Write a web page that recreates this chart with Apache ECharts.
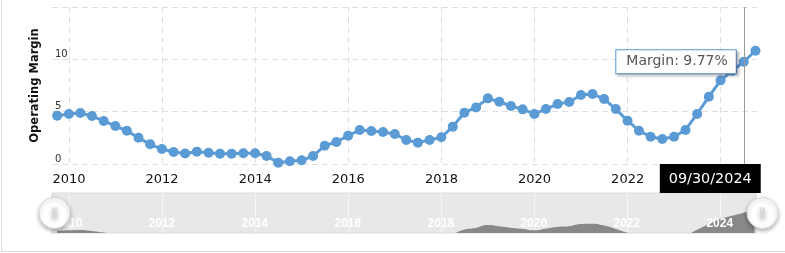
<!DOCTYPE html>
<html><head><meta charset="utf-8">
<script src="https://cdn.jsdelivr.net/npm/echarts@6/dist/echarts.min.js"></script>
<style>
html,body{margin:0;padding:0;background:#fff;overflow:hidden;}
#frame{position:absolute;left:1px;top:-2px;width:820px;height:252px;border:1px solid #dcdcdc;}
#chart{position:absolute;left:0;top:0;width:785px;height:253px;}
</style></head><body>
<div id="frame"></div>
<div id="chart"></div>
<script>
// ---- data ----
const dates = [
  '2009-09-30','2009-12-31',
  '2010-03-31','2010-06-30','2010-09-30','2010-12-31',
  '2011-03-31','2011-06-30','2011-09-30','2011-12-31',
  '2012-03-31','2012-06-30','2012-09-30','2012-12-31',
  '2013-03-31','2013-06-30','2013-09-30','2013-12-31',
  '2014-03-31','2014-06-30','2014-09-30','2014-12-31',
  '2015-03-31','2015-06-30','2015-09-30','2015-12-31',
  '2016-03-31','2016-06-30','2016-09-30','2016-12-31',
  '2017-03-31','2017-06-30','2017-09-30','2017-12-31',
  '2018-03-31','2018-06-30','2018-09-30','2018-12-31',
  '2019-03-31','2019-06-30','2019-09-30','2019-12-31',
  '2020-03-31','2020-06-30','2020-09-30','2020-12-31',
  '2021-03-31','2021-06-30','2021-09-30','2021-12-31',
  '2022-03-31','2022-06-30','2022-09-30','2022-12-31',
  '2023-03-31','2023-06-30','2023-09-30','2023-12-31',
  '2024-03-31','2024-06-30','2024-09-30'
];
const margins = [
  4.62, 4.78,
  4.87, 4.58, 4.11, 3.63,
  3.18, 2.51, 1.88, 1.43,
  1.15, 1.00, 1.18, 1.08,
  0.99, 0.99, 1.02, 1.02,
  0.76, 0.13, 0.26, 0.35,
  0.76, 1.75, 2.10, 2.71,
  3.25, 3.15, 3.06, 2.87,
  2.29, 2.04, 2.29, 2.55,
  3.57, 4.90, 5.41, 6.27,
  5.95, 5.54, 5.22, 4.78,
  5.25, 5.73, 5.92, 6.59,
  6.69, 6.21, 5.25, 4.14,
  3.18, 2.61, 2.39, 2.61,
  3.25, 4.78, 6.43, 7.99,
  8.90, 9.77, 10.82
];
const yearTicks = ['2010-01-01','2012-01-01','2014-01-01','2016-01-01','2018-01-01','2020-01-01','2022-01-01','2024-01-01'];
const yMin = 0, yMax = 15, yStep = 5;
const seriesName = 'Margin';
const yAxisName = 'Operating Margin';
const pointerDate = '2024-06-30';
const pointerLabel = '09/30/2024';

// ---- helpers ----
const DAY = 86400000;
function ts(s){ const p = s.split('-').map(Number); return Date.UTC(p[0], p[1]-1, p[2]); }
const xMin = ts('2010-01-01') - 133.4*DAY;
const xMax = ts('2024-01-01') + 284.8*DAY;
const tickVals = yearTicks.map(ts);
const pointerIdx = dates.indexOf(pointerDate);
const BLUE = '#5b9bd5';
const FONT = 'DejaVu Sans';
const yearFmt = v => String(new Date(v + DAY).getUTCFullYear());

const lineData = dates.map((d, i) => {
  const v = [ts(d), margins[i]];
  if (i !== pointerIdx) return v;
  return {
    value: v,
    label: {
      show: true, position: 'left', distance: 3,
      formatter: seriesName + ': ' + margins[i].toFixed(2) + '%',
      color: '#555', fontSize: 14, fontFamily: FONT,
      backgroundColor: '#fff', borderColor: BLUE, borderWidth: 1,
      padding: [5, 8, 4, 10],
      shadowColor: 'rgba(0,0,0,0.25)', shadowBlur: 3, shadowOffsetX: 2, shadowOffsetY: 2
    }
  };
});
const shadowData = dates.map((d, i) => [ts(d), margins[i]]);

const handlePath = 'path://M50,0 A50,50 0 1,1 50,100 A50,50 0 1,1 50,0 Z ' +
  'M43.5,33 L43.5,67 L46.5,67 L46.5,33 Z M53.5,33 L53.5,67 L56.5,67 L56.5,33 Z';

const chart = echarts.init(document.getElementById('chart'), null, {renderer: 'canvas'});
chart.setOption({
  animation: false,
  textStyle: {fontFamily: FONT},
  grid: [
    {left: 52, right: 28, top: 7, bottom: 89, containLabel: false},
    {left: 52, right: 29, top: 193, height: 40, show: true, backgroundColor: '#e8e8e8', borderColor: '#dadada', borderWidth: 1}
  ],
  xAxis: [
    {
      type: 'value', gridIndex: 0, min: xMin, max: xMax,
      axisLine: {show: false}, axisTick: {show: false, customValues: tickVals},
      axisLabel: {customValues: tickVals, formatter: yearFmt,
        color: '#111', fontSize: 13, fontFamily: FONT, margin: 9},
      splitLine: {show: true, lineStyle: {color: '#dedede', type: [6, 4], width: 1}}
    },
    {
      type: 'value', gridIndex: 1, min: xMin, max: xMax, z: 3,
      axisLine: {show: false}, axisTick: {show: false, customValues: tickVals},
      axisLabel: {customValues: tickVals, inside: true, formatter: yearFmt,
        color: '#fff', fontSize: 12, fontWeight: 'bold', fontFamily: 'Liberation Sans', margin: 3},
      splitLine: {show: true, lineStyle: {color: 'rgba(255,255,255,0.55)', width: 1}}
    }
  ],
  yAxis: [
    {
      type: 'value', gridIndex: 0, min: yMin, max: yMax, interval: yStep,
      name: yAxisName, nameLocation: 'middle', nameGap: 11,
      nameTextStyle: {fontWeight: 'bold', fontSize: 11.5, color: '#111', fontFamily: FONT},
      axisLine: {show: false}, axisTick: {show: false},
      axisLabel: {inside: true, margin: 3, verticalAlign: 'bottom', showMaxLabel: false,
        color: '#333', fontSize: 10, fontFamily: FONT},
      splitLine: {show: true, lineStyle: {color: '#dedede', type: [6, 4], width: 1}}
    },
    {type: 'value', gridIndex: 1, min: 4, max: 15.5, show: false}
  ],
  dataZoom: [{
    type: 'slider', xAxisIndex: 0, filterMode: 'none', start: 0, end: 100,
    left: 52, right: 23, top: 193, height: 40,
    backgroundColor: 'transparent', fillerColor: 'rgba(0,0,0,0)', borderColor: 'transparent',
    showDataShadow: false, showDetail: false, brushSelect: false,
    moveHandleSize: 0,
    handleIcon: handlePath, handleSize: 31,
    handleStyle: {color: '#fff', borderColor: '#dcdcdc', borderWidth: 1,
      shadowBlur: 4, shadowColor: 'rgba(0,0,0,0.3)', shadowOffsetY: 2},
    emphasis: {handleStyle: {color: '#fff', borderColor: '#dcdcdc'}}
  }],
  series: [
    {
      name: seriesName, type: 'line', xAxisIndex: 0, yAxisIndex: 0,
      data: lineData, clip: false,
      symbol: 'circle', symbolSize: 10,
      itemStyle: {color: BLUE},
      lineStyle: {color: BLUE, width: 3},
      emphasis: {disabled: true},
      z: 3,
      markLine: {
        silent: true, symbol: ['none', 'none'], animation: false,
        lineStyle: {color: '#9a9a9a', width: 1, type: 'solid'},
        emphasis: {disabled: true},
        label: {
          show: true, position: 'start', distance: 0,
          formatter: () => '{box|' + pointerLabel + '}{gap|}',
          rich: {
            box: {backgroundColor: '#000', color: '#fff', fontSize: 14.4, fontFamily: FONT, padding: [8, 9, 7, 9]},
            gap: {width: 67}
          }
        },
        data: [{xAxis: ts(pointerDate)}]
      }
    },
    {
      type: 'line', xAxisIndex: 1, yAxisIndex: 1, data: shadowData,
      smooth: true, symbol: 'none', silent: true,
      lineStyle: {width: 0}, areaStyle: {color: '#888', opacity: 1},
      emphasis: {disabled: true}
    }
  ]
});
</script>
</body></html>
